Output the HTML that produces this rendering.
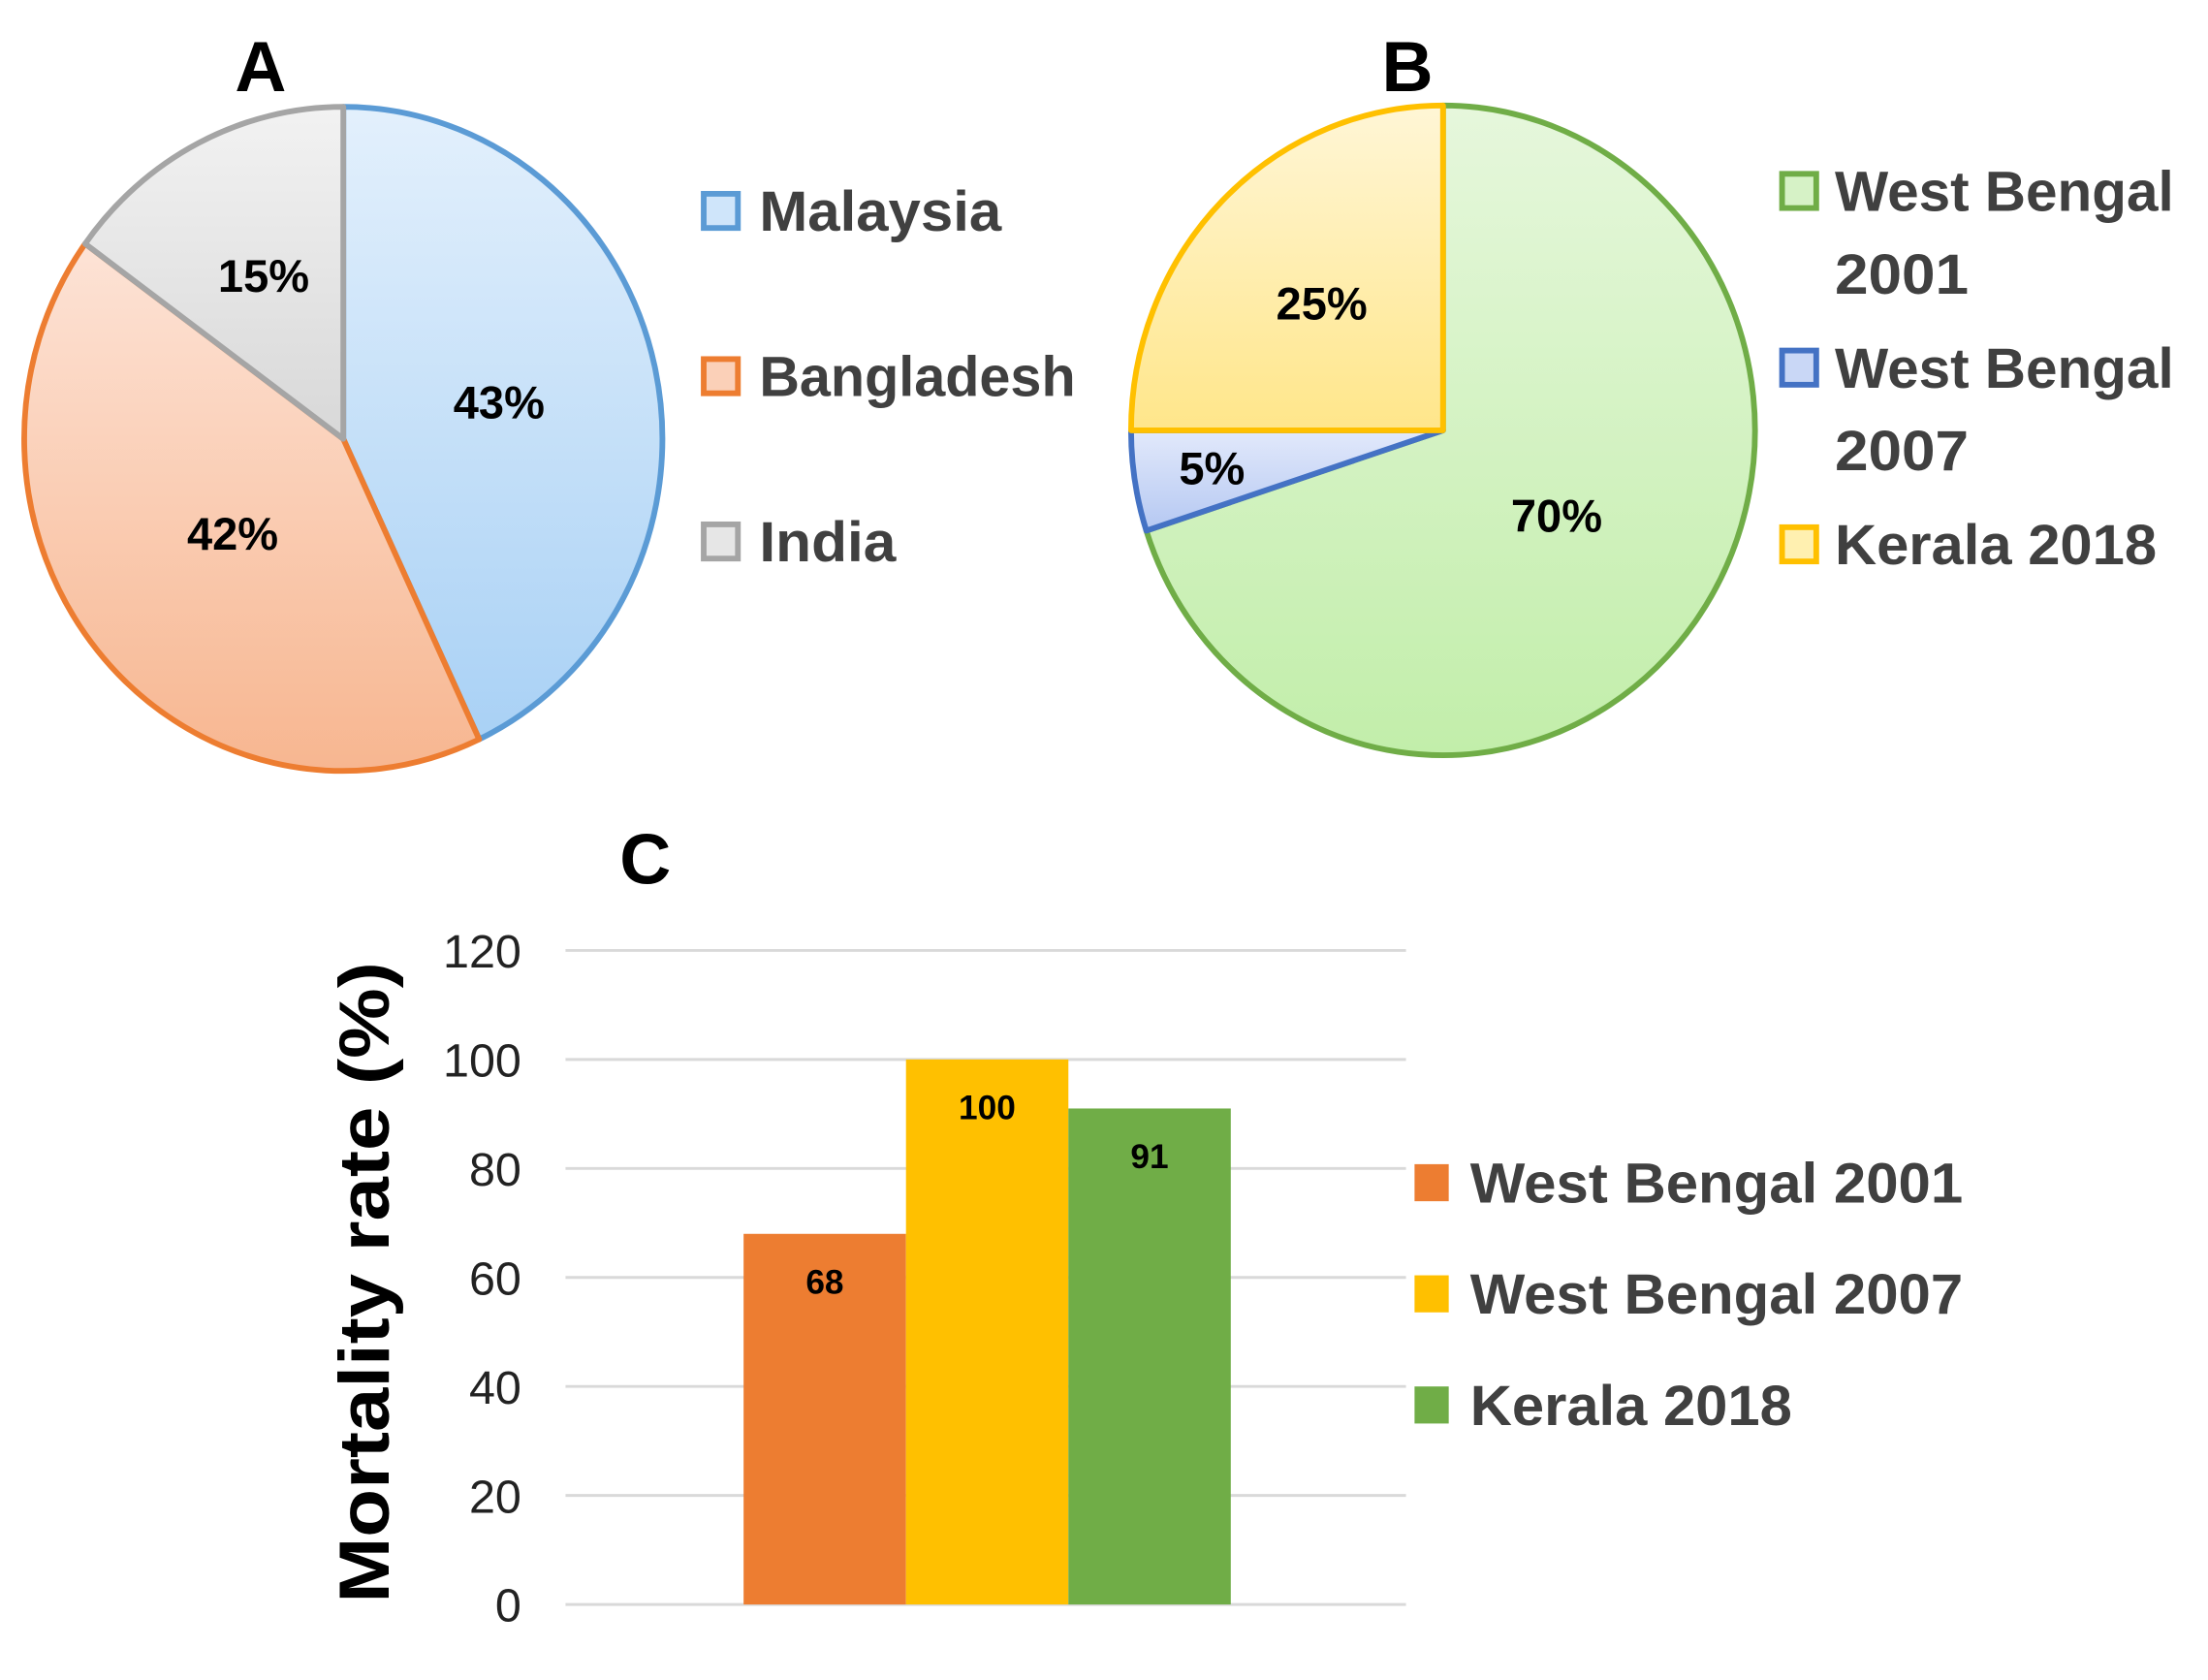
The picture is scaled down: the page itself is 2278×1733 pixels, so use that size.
<!DOCTYPE html>
<html><head><meta charset="utf-8"><style>
html,body{margin:0;padding:0;background:#fff}
svg{display:block}
text{font-family:"Liberation Sans",sans-serif}
</style></head><body>
<svg id="fig" width="2278" height="1733" viewBox="0 0 1550 1179" preserveAspectRatio="none" xmlns="http://www.w3.org/2000/svg">
<defs>
<linearGradient id="gBlue" x1="0" y1="0" x2="0" y2="1"><stop offset="0" stop-color="#e3f0fc"/><stop offset="1" stop-color="#a9d1f5"/></linearGradient>
<linearGradient id="gOrange" x1="0" y1="0" x2="0" y2="1"><stop offset="0" stop-color="#fde3d6"/><stop offset="1" stop-color="#f7b690"/></linearGradient>
<linearGradient id="gGray" x1="0" y1="0" x2="0" y2="1"><stop offset="0" stop-color="#f2f2f2"/><stop offset="1" stop-color="#d8d8d8"/></linearGradient>
<linearGradient id="gGreen" x1="0" y1="0" x2="0" y2="1"><stop offset="0" stop-color="#e6f7dc"/><stop offset="1" stop-color="#c2eeaa"/></linearGradient>
<linearGradient id="gBlue2" x1="0" y1="0" x2="0" y2="1"><stop offset="0" stop-color="#e2e9fb"/><stop offset="1" stop-color="#b5c8f2"/></linearGradient>
<linearGradient id="gYellow" x1="0" y1="0" x2="0" y2="1"><stop offset="0" stop-color="#fff6d6"/><stop offset="1" stop-color="#ffe68a"/></linearGradient>
</defs>
<text x="183" y="64" font-size="50" font-weight="bold" text-anchor="middle">A</text>
<text x="988" y="64" font-size="50" font-weight="bold" text-anchor="middle">B</text>
<text x="453" y="620" font-size="50" font-weight="bold" text-anchor="middle">C</text>
<g id="pieA"></g>
<g id="legA"></g>
<g id="pieB"></g>
<g id="legB"></g>
<g id="bars"></g>
</svg>
<script>
const pieALabels=["Malaysia","Bangladesh","India"];
const pieAValues=[43,42,15];
const pieBLabels=["West Bengal 2001","West Bengal 2007","Kerala 2018"];
const pieBValues=[70,5,25];
const barCategories=["West Bengal 2001","West Bengal 2007","Kerala 2018"];
const barValues=[68,100,91];
const yTicks=[0,20,40,60,80,100,120];

const NS="http://www.w3.org/2000/svg";
function mk(tag,attrs,parent){const e=document.createElementNS(NS,tag);for(const k in attrs)e.setAttribute(k,attrs[k]);parent.appendChild(e);return e;}

function drawPie(g,values,cx,cy,rx,ry,fills,strokes,labelR,names){
  const tot=values.reduce((a,b)=>a+b,0);let acc=0;
  values.forEach((v,i)=>{
    const a0=acc/tot*2*Math.PI;acc+=v;const a1=acc/tot*2*Math.PI;
    const p=a=>[cx+rx*Math.sin(a),cy-ry*Math.cos(a)];
    const [x0,y0]=p(a0),[x1,y1]=p(a1);
    const large=(a1-a0)>Math.PI?1:0;
    const path=mk('path',{d:`M${cx},${cy} L${x0},${y0} A${rx},${ry} 0 ${large} 1 ${x1},${y1} Z`,fill:fills[i],stroke:strokes[i],'stroke-width':4,'stroke-linejoin':'round'},g);
    
    
  });
  acc=0;
  values.forEach((v,i)=>{
    const am=(acc+v/2)/tot*2*Math.PI;acc+=v;
    const lr=labelR[i];
    const t=mk('text',{x:cx+rx*lr*Math.sin(am),y:cy-ry*lr*Math.cos(am)+11,'font-size':32,'font-weight':'bold','text-anchor':'middle'},g);
    t.textContent=v+'%';
    
    
  });
}
drawPie(document.getElementById('pieA'),pieAValues,241,308,224,233,['url(#gBlue)','url(#gOrange)','url(#gGray)'],['#5b9bd5','#ed7d31','#a5a5a5'],[0.5,0.45,0.55],pieALabels);
drawPie(document.getElementById('pieB'),pieBValues,1013,302,219,228,['url(#gGreen)','url(#gBlue2)','url(#gYellow)'],['#70ad47','#4472c4','#ffc000'],[0.45,0.75,0.55],pieBLabels);

// legends
const legA=document.getElementById('legA');
const aStroke=['#5b9bd5','#ed7d31','#a5a5a5'],aFill=['#cfe5fa','#fbd0b8','#e6e6e6'];
const aW=[170,222,96];
pieALabels.forEach((n,i)=>{
  const y=148+i*116;
  const r=mk('rect',{x:494,y:y-12,width:24,height:24,fill:aFill[i],stroke:aStroke[i],'stroke-width':4},legA);
  
  
  const t=mk('text',{x:533,y:y+14,'font-size':40,'font-weight':'bold',fill:'#404040',textLength:aW[i],lengthAdjust:'spacingAndGlyphs'},legA);
  t.textContent=n;
  
  
});
const legB=document.getElementById('legB');
const bStroke=['#70ad47','#4472c4','#ffc000'],bFill=['#d6f2c6','#c9d7f6','#fff0b0'];
const bLines=[["West Bengal","2001"],["West Bengal","2007"],["Kerala 2018"]];
const bY=[134,258,382];
bLines.forEach((ls,i)=>{
  const y=bY[i];
  const r=mk('rect',{x:1251,y:y-12,width:24,height:24,fill:bFill[i],stroke:bStroke[i],'stroke-width':4},legB);
  
  
  ls.forEach((s,j)=>{
    const t=mk('text',{x:1288,y:y+14+j*58,'font-size':40,'font-weight':'bold',fill:'#404040',textLength:s.length>6?238:94,lengthAdjust:'spacingAndGlyphs'},legB);
    t.textContent=s;
    if(i===2)t.setAttribute('textLength',226);
    
    
  });
});

// bar chart
const bars=document.getElementById('bars');
const yMin=0,yMax=120,py0=1126,py1=667,px0=397,px1=987;
const yS=v=>py0-(v-yMin)/(yMax-yMin)*(py0-py1);
const bw=114,groupStart=522;
const xS=i=>groupStart+i*bw;
yTicks.forEach(v=>{
  const l=mk('line',{x1:px0,x2:px1,y1:yS(v),y2:yS(v),stroke:'#d9d9d9','stroke-width':2},bars);
  
  
  const t=mk('text',{x:366,y:yS(v)+12,'font-size':33,'text-anchor':'end',fill:'#222'},bars);
  t.textContent=v;
  
  
});
const barColors=['#ed7d31','#ffc000','#70ad47'];
barValues.forEach((v,i)=>{
  const r=mk('rect',{x:xS(i),y:yS(v),width:bw,height:yS(0)-yS(v),fill:barColors[i]},bars);
  
  
  const t=mk('text',{x:xS(i)+bw/2,y:yS(v)+42,'font-size':24,'font-weight':'bold','text-anchor':'middle'},bars);
  t.textContent=v;
  
  
});
const yt=mk('text',{x:0,y:0,'font-size':50,'font-weight':'bold','text-anchor':'middle',transform:'translate(273,900) rotate(-90)',textLength:450,lengthAdjust:'spacingAndGlyphs'},bars);
yt.textContent='Mortality rate (%)';


const legY=[830,908,986];
barCategories.forEach((n,i)=>{
  const r=mk('rect',{x:993,y:legY[i]-13,width:24,height:26,fill:barColors[i]},bars);
  
  
  const t=mk('text',{x:1032,y:legY[i]+14,'font-size':40,'font-weight':'bold',fill:'#404040',textLength:i===2?226:346,lengthAdjust:'spacingAndGlyphs'},bars);
  t.textContent=n;
  
  
});
</script>
</body></html>
